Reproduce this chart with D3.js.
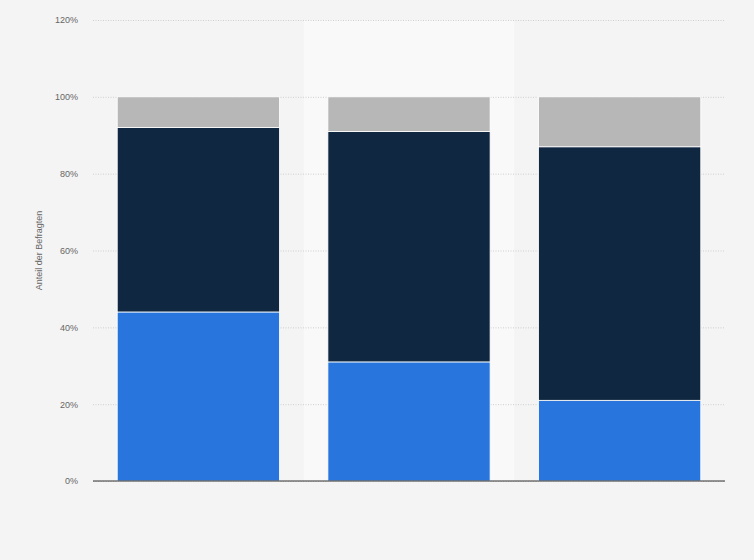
<!DOCTYPE html>
<html lang="de">
<head>
<meta charset="UTF-8">
<title>Anteil der Befragten</title>
<script src="https://d3js.org/d3.v7.min.js"></script>
<style>
    body { margin: 0; background: #f4f4f4; }
    svg { display: block; }
    .tick text { font-family: Arial, "Liberation Sans", sans-serif; font-size: 9px; fill: #666; }
    .axis-title { font-family: Arial, "Liberation Sans", sans-serif; font-size: 9px; fill: #666; }
</style>
</head>
<body>
<svg width="754" height="560"></svg>
<script>
// groups (no visible labels in the chart)
const categories = ["A", "B", "C"];
// stacked series, percentage of respondents
const seriesNames = ["s1", "s2", "s3"];
const s1 = [44, 31, 21];
const s2 = [48, 60, 66];
const s3 = [8, 9, 13];
const yTicks = [0, 20, 40, 60, 80, 100, 120];
const colors = ["#2876dd", "#0f2740", "#b7b7b7"];
const highlighted = "B";

const svg = d3.select("svg");
const margin = { top: 20, right: 29, bottom: 79, left: 93 };
const width = 754 - margin.left - margin.right;
const height = 560 - margin.top - margin.bottom;

const g = svg.append("g").attr("transform", `translate(${margin.left},${margin.top})`);

const x = d3.scaleBand().domain(categories).range([0, width]).paddingInner(0.23).paddingOuter(0.115);
const xFull = d3.scaleBand().domain(categories).range([0, width]);
const y = d3.scaleLinear().domain([0, 120]).range([height, 0]);

// highlighted column
g.append("rect")
    .attr("x", xFull(highlighted))
    .attr("y", 0)
    .attr("width", xFull.bandwidth())
    .attr("height", height)
    .attr("fill", "#f9f9f9");

// grid + tick labels
const yAxis = g.append("g")
    .call(d3.axisLeft(y).tickValues(yTicks).tickFormat(d => d + "%").tickSize(-width).tickPadding(15));
yAxis.select(".domain").remove();
yAxis.selectAll(".tick line")
    .attr("stroke", "#cfcfcf")
    .attr("stroke-dasharray", "1,1.5");
yAxis.selectAll(".tick text").attr("x", -15);

const table = categories.map((c, i) => ({ cat: c, s1: s1[i], s2: s2[i], s3: s3[i] }));
const stack = d3.stack().keys(seriesNames)(table);

g.selectAll(".layer")
    .data(stack)
    .enter().append("g")
    .attr("fill", (d, i) => colors[i])
    .selectAll("rect")
    .data(d => d)
    .enter().append("rect")
    .attr("x", d => x(d.data.cat))
    .attr("y", d => y(d[1]))
    .attr("width", x.bandwidth())
    .attr("height", d => y(d[0]) - y(d[1]))
    .attr("stroke", "#fff")
    .attr("stroke-width", 0.8);

// baseline
g.append("line")
    .attr("x1", 0).attr("x2", width)
    .attr("y1", y(0)).attr("y2", y(0))
    .attr("stroke", "#333").attr("stroke-width", 1.2);

// axis title
svg.append("text")
    .attr("class", "axis-title")
    .attr("transform", `translate(42,${margin.top + height / 2}) rotate(-90)`)
    .attr("text-anchor", "middle")
    .text("Anteil der Befragten");
</script>
</body>
</html>
